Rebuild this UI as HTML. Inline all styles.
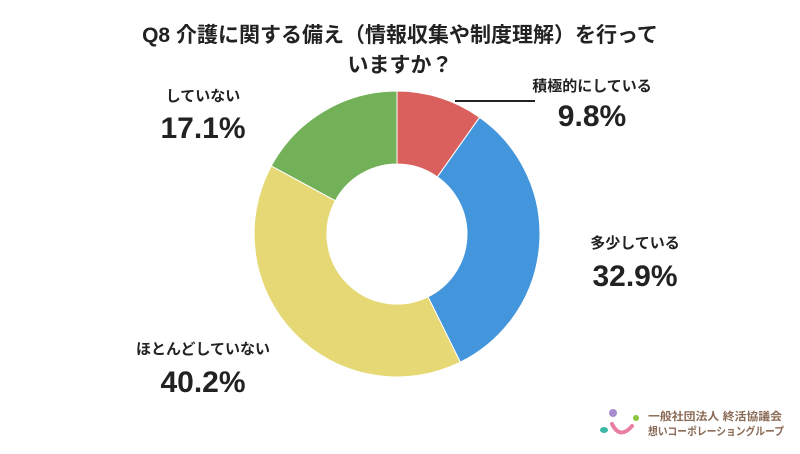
<!DOCTYPE html>
<html><head><meta charset="utf-8"><style>
body{margin:0;width:800px;height:449px;background:#fff;overflow:hidden;font-family:"Liberation Sans","Noto Sans CJK JP",sans-serif;}
svg text{font-family:"Liberation Sans","Noto Sans CJK JP",sans-serif;font-weight:bold;fill:#222;}
</style></head><body>
<svg width="800" height="449" viewBox="0 0 800 449">
<text x="400" y="42" font-size="21" text-anchor="middle">Q8 介護に関する備え（情報収集や制度理解）を行って</text>
<text x="400" y="72" font-size="21" text-anchor="middle">いますか？</text>
<g stroke="#fff" stroke-width="1">
<path d="M397 91 A143 143 0 0 1 479.6 117.3 L437.4 176.9 A70 70 0 0 0 397 164Z" fill="#d9605d"/>
<path d="M479.6 117.3 A143 143 0 0 1 460.3 362.2 L428 296.8 A70 70 0 0 0 437.4 176.9Z" fill="#4396dc"/>
<path d="M460.3 362.2 A143 143 0 0 1 271.3 165.9 L335.4 200.7 A70 70 0 0 0 428 296.8Z" fill="#e5d875"/>
<path d="M271.3 165.9 A143 143 0 0 1 397 91 L397 164 A70 70 0 0 0 335.4 200.7Z" fill="#72b157"/>
</g>
<line x1="455" y1="101" x2="535" y2="101" stroke="#222" stroke-width="2"/>
<text x="592" y="91" font-size="15" text-anchor="middle">積極的にしている</text>
<text x="592" y="126" font-size="30" text-anchor="middle">9.8%</text>
<text x="635" y="248" font-size="15" text-anchor="middle">多少している</text>
<text x="635" y="286" font-size="30" text-anchor="middle">32.9%</text>
<text x="203" y="101" font-size="15" text-anchor="middle">していない</text>
<text x="203" y="138" font-size="30" text-anchor="middle">17.1%</text>
<text x="203" y="354" font-size="15" text-anchor="middle">ほとんどしていない</text>
<text x="203" y="392" font-size="30" text-anchor="middle">40.2%</text>
<circle cx="613" cy="413" r="4" fill="#a98bd0"/>
<circle cx="636" cy="418" r="3" fill="#8cc63f"/>
<ellipse cx="604" cy="430" rx="4" ry="3" fill="#3cb8a8"/>
<path d="M612 424 Q620 440 632 426" stroke="#e77fa5" stroke-width="4" fill="none" stroke-linecap="round"/>
<text x="648" y="420" font-size="11" textLength="134" lengthAdjust="spacingAndGlyphs" style="fill:#8a6a55">一般社団法人 終活協議会</text>
<text x="648" y="435" font-size="11" textLength="136" lengthAdjust="spacingAndGlyphs" style="fill:#8a6a55">想いコーポレーショングループ</text>
</svg>
</body></html>
